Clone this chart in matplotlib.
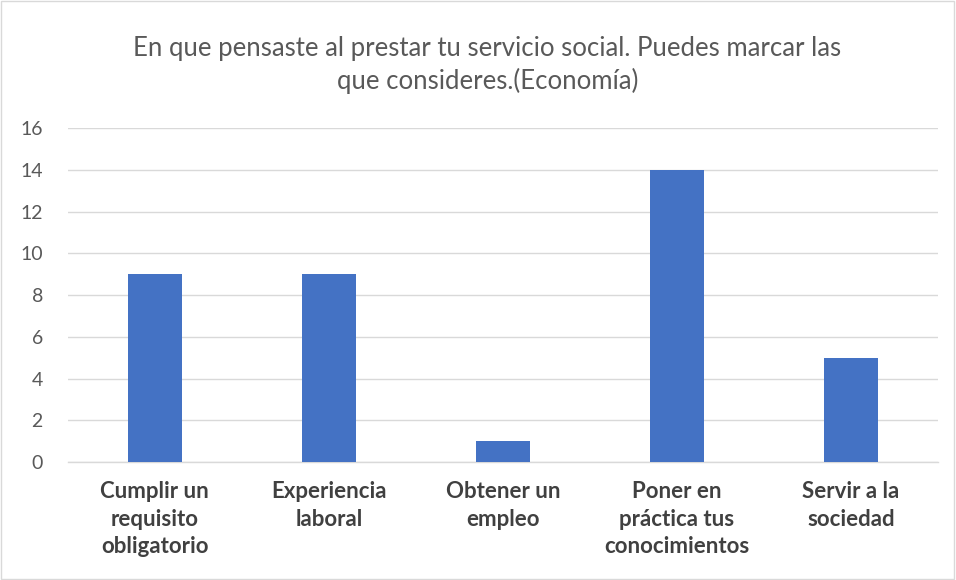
import matplotlib.pyplot as plt
import matplotlib as mpl
from matplotlib.patches import Rectangle

mpl.rcParams["font.family"] = ["Lato", "DejaVu Sans"]

categories = ["Cumplir un\nrequisito\nobligatorio", "Experiencia\nlaboral", "Obtener un\nempleo",
              "Poner en\npráctica tus\nconocimientos", "Servir a la\nsociedad"]
values = [9, 9, 1, 14, 5]
yticks = [0, 2, 4, 6, 8, 10, 12, 14, 16]

fig = plt.figure(figsize=(9.56, 5.8), dpi=100)
ax = fig.add_axes([0.071, 0.2034, 0.91, 0.5757])

x = range(len(categories))
ax.bar(x, values, width=0.31, color="#4472C4", zorder=3)

ax.set_xlim(-0.5, len(categories) - 0.5)
ax.set_ylim(0, 16)
ax.set_yticks(yticks)
ax.grid(axis="y", color="#D9D9D9", linewidth=1, zorder=0)
for s in ["top", "right", "left"]:
    ax.spines[s].set_visible(False)
ax.spines["bottom"].set_color("#D9D9D9")
ax.spines["bottom"].set_linewidth(1)

ax.tick_params(axis="y", length=0, pad=18, labelsize=14, labelcolor="#595959")
ax.tick_params(axis="x", length=0, pad=14)
ax.set_xticks(list(x))
ax.set_xticklabels(categories, fontsize=16, fontweight="bold", color="#404040",
                   linespacing=1.38, va="top")

fig.text(0.51, 0.888, "En que pensaste al prestar tu servicio social. Puedes marcar las\nque consideres.(Economía)",
         ha="center", va="center", fontsize=18.5, color="#595959", linespacing=1.36)

fig.patches.append(Rectangle((0.001, 0.001), 0.997, 0.997, transform=fig.transFigure,
                             fill=False, edgecolor="#D9D9D9", linewidth=1))

fig.savefig("out.png", dpi=100)
